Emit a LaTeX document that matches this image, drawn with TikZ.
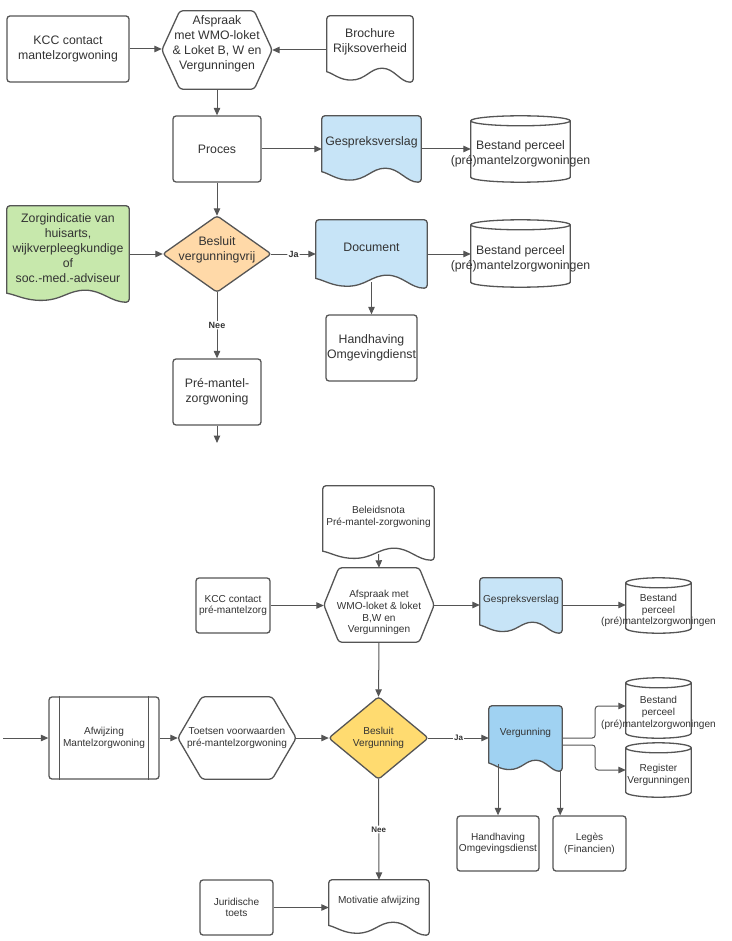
\documentclass[tikz,border=0pt]{standalone}
\usepackage{fontspec}
\setmainfont{Liberation Sans}
\usetikzlibrary{calc,arrows.meta,backgrounds}

\definecolor{lijn}{HTML}{555555}
\definecolor{tekst}{HTML}{333333}
\definecolor{lichtblauw}{HTML}{C7E4F7}
\definecolor{blauw}{HTML}{A0D2F2}
\definecolor{groen}{HTML}{C7E8AC}
\definecolor{oranje}{HTML}{FFD9A8}
\definecolor{geel}{HTML}{FFDB70}

\tikzset{
  vak/.style={draw=none, inner sep=0pt, align=center, text=tekst},
  box/.style={vak, draw=lijn, line width=1.3pt, rounded corners=3pt, fill=white},
  rand/.style={draw=lijn, line width=1.3pt, rounded corners=3pt},
  pijl/.style={draw=lijn, line width=1pt, rounded corners=3pt, -{Triangle[length=7.5pt,width=6.5pt]}},
  groot/.style={font=\fontsize{12.3}{15}\selectfont},
  klein/.style={font=\fontsize{10.1}{11.7}\selectfont},
  jn/.style={fill=white, inner sep=1pt, text=tekst, font=\fontsize{9}{10}\selectfont\bfseries},
  jnk/.style={jn, font=\fontsize{8}{9}\selectfont\bfseries},
}

% tekst verschuiven zonder de vorm te verplaatsen
\def\schuif[#1]#2{\raisebox{#1}[\height][\depth]{\begin{tabular}{@{}c@{}}#2\end{tabular}}}

\def\docvorm(#1)[#2][#3]{%
  \begin{scope}[on background layer]
  \draw[rand,fill=#2] let \p1=(#1.south west), \p2=(#1.north east), \n1={\x2-\x1} in
    (\x1,\y1-0.25*#3pt) -- (\x1,\y2) -- (\x2,\y2) -- (\x2,\y1-#3pt) [sharp corners]
    .. controls (\x2-0.15*\n1,\y1-#3pt) and (\x2-0.22*\n1,\y1) .. (\x2-0.36*\n1,\y1)
    .. controls (\x2-0.5*\n1,\y1) and (\x1+0.45*\n1,\y1-0.85*#3pt) .. (\x1+0.28*\n1,\y1-0.85*#3pt)
    .. controls (\x1+0.15*\n1,\y1-0.85*#3pt) and (\x1+0.08*\n1,\y1-0.4*#3pt) .. (\x1,\y1-0.25*#3pt) -- cycle;
  \end{scope}}
\def\zeshoek(#1)[#2]{%
  \begin{scope}[on background layer]
  \draw[rand,fill=white] let \p1=(#1.south west), \p2=(#1.north east), \p3=(#1.west) in
    (\x1,\y3) -- (\x1+#2pt,\y2) -- (\x2-#2pt,\y2) -- (\x2,\y3) -- (\x2-#2pt,\y1) -- (\x1+#2pt,\y1) -- cycle;
  \end{scope}}
\def\ruit(#1)[#2]{%
  \begin{scope}[on background layer]
  \draw[rand,fill=#2] (#1.west) -- (#1.north) -- (#1.east) -- (#1.south) -- cycle;
  \end{scope}}
\def\ton(#1){%
  \begin{scope}[on background layer]
  \draw[rand,sharp corners,fill=white] let \p1=(#1.south west), \p2=(#1.north east), \n1={(\x2-\x1)/2} in
    (\x1,\y2+5pt) -- (\x1,\y1+5pt) arc[start angle=180,end angle=360,x radius=\n1,y radius=5pt]
    -- (\x2,\y2+5pt) arc[start angle=0,end angle=180,x radius=\n1,y radius=5pt] -- cycle
    (\x1,\y2+5pt) arc[start angle=180,end angle=360,x radius=\n1,y radius=5pt];
  \end{scope}}

\begin{document}
\begin{tikzpicture}[x=1pt,y=-1pt]
\useasboundingbox (0,0) rectangle (731,941);

% mantelzorgwoning
\node[box,groot,minimum width=122pt,minimum height=66pt] (kcc1) at (68,49) {KCC contact\\mantelzorgwoning};
\node[vak,groot,minimum width=110pt,minimum height=78pt] (afspraak1) at (217,50) {\schuif[6pt]{Afspraak\\met WMO-loket\\\& Loket B, W en\\Vergunningen}};
\zeshoek(afspraak1)[18]
\node[vak,groot,minimum width=86pt,minimum height=52pt] (brochure) at (370,42) {Brochure\\Rijksoverheid};
\docvorm(brochure)[white][14]
\node[box,groot,minimum width=88pt,minimum height=66pt] (proces) at (217,149) {Proces};
\node[vak,groot,minimum width=99pt,minimum height=52pt] (gesp1) at (371.5,142) {Gespreksverslag};
\docvorm(gesp1)[lichtblauw][14]
\node[vak,groot,minimum width=99pt,minimum height=56pt] (bestand1) at (520.5,154) {Bestand perceel\\\makebox[0pt]{(pré)mantelzorgwoningen}};
\ton(bestand1)
\node[vak,groot,minimum width=122pt,minimum height=84pt] (zorg) at (68,248) {Zorgindicatie van\\huisarts,\\wijkverpleegkundige\\of\\soc.-med.-adviseur};
\docvorm(zorg)[groen][12]
\node[vak,groot,minimum width=108pt,minimum height=76pt] (besluit1) at (217,254) {\schuif[4pt]{Besluit\\vergunningvrij}};
\ruit(besluit1)[oranje]
\node[vak,groot,minimum width=111pt,minimum height=55pt] (document) at (371.5,247.5) {Document};
\docvorm(document)[lichtblauw][13]
\node[vak,groot,minimum width=99pt,minimum height=57pt] (bestand2) at (520.5,258.5) {Bestand perceel\\\makebox[0pt]{(pré)mantelzorgwoningen}};
\ton(bestand2)
\node[box,groot,minimum width=91pt,minimum height=66pt] (handh1) at (371.5,348) {Handhaving\\Omgevingdienst};
\node[box,groot,minimum width=88pt,minimum height=66pt] (pre) at (217,392) {Pré-mantel-\\zorgwoning};
\coordinate (verder) at (217,443);

\draw[pijl] (kcc1.east) -- (kcc1.east -| afspraak1.west);
\draw[pijl] (afspraak1.east -| brochure.west) -- (afspraak1.east);
\draw[pijl] (afspraak1.south) -- (proces.north);
\draw[pijl] (proces.east) -- (proces.east -| gesp1.west);
\draw[pijl] (proces.east -| gesp1.east) -- (proces.east -| bestand1.west);
\draw[pijl] (proces.south) -- (besluit1.north);
\draw[pijl] (besluit1.west -| zorg.east) -- (besluit1.west);
\draw[pijl] (besluit1.east) -- node[jn] {Ja} (besluit1.east -| document.west);
\draw[pijl] (besluit1.east -| document.east) -- (besluit1.east -| bestand2.west);
\draw[pijl] ($(document.south)+(0,7)$) -- (handh1.north);
\draw[pijl] (besluit1.south) -- node[jn] {Nee} (pre.north);
\draw[pijl] (pre.south) -- (verder);

% pre-mantelzorgwoning
\node[vak,klein,minimum width=111pt,minimum height=62pt] (nota) at (378.5,517) {Beleidsnota\\Pré-mantel-zorgwoning};
\docvorm(nota)[white][12]
\node[box,klein,minimum width=74pt,minimum height=55pt] (kcc2) at (233,605.5) {KCC contact\\pré-mantelzorg};
\node[vak,klein,minimum width=110pt,minimum height=74pt] (afspraak2) at (379,605) {\schuif[-8pt]{Afspraak met\\WMO-loket \& loket\\B,W en\\Vergunningen}};
\zeshoek(afspraak2)[15]
\node[vak,klein,minimum width=82pt,minimum height=44pt] (gesp2) at (521,600) {Gespreksverslag};
\docvorm(gesp2)[lichtblauw][11]
\node[vak,klein,minimum width=65pt,minimum height=45pt] (bestand3) at (658.5,610.5) {Bestand\\perceel\\\makebox[0pt]{(pré)mantelzorgwoningen}};
\ton(bestand3)
\coordinate (links) at (3,738);
\node[box,klein,minimum width=110pt,minimum height=82pt] (afw) at (104,738) {Afwijzing\\Mantelzorgwoning};
\draw[rand] ([xshift=11pt]afw.north west) -- ([xshift=11pt]afw.south west);
\draw[rand] ([xshift=-11pt]afw.north east) -- ([xshift=-11pt]afw.south east);
\node[vak,klein,minimum width=118pt,minimum height=82pt] (toets) at (237,738) {Toetsen voorwaarden\\pré-mantelzorgwoning};
\zeshoek(toets)[24]
\node[vak,klein,minimum width=99pt,minimum height=82pt] (besluit2) at (378.5,738) {Besluit\\Vergunning};
\ruit(besluit2)[geel]
\node[vak,klein,minimum width=73pt,minimum height=54pt] (verg) at (525.5,733) {Vergunning};
\docvorm(verg)[blauw][11]
\node[vak,klein,minimum width=65pt,minimum height=50pt] (bestand4) at (658.5,713) {Bestand\\perceel\\\makebox[0pt]{(pré)mantelzorgwoningen}};
\ton(bestand4)
\node[vak,klein,minimum width=65pt,minimum height=44pt] (register) at (658.5,775) {Register\\Vergunningen};
\ton(register)
\node[box,klein,minimum width=82pt,minimum height=55pt] (handh2) at (498,843.5) {Handhaving\\Omgevingsdienst};
\node[box,klein,minimum width=73pt,minimum height=55pt] (leges) at (589.5,843.5) {Legès\\(Financien)};
\node[box,klein,minimum width=73pt,minimum height=55pt] (jur) at (236.5,907.5) {Juridische\\toets};
\node[vak,klein,minimum width=100pt,minimum height=42pt] (motiv) at (379,901) {Motivatie afwijzing};
\docvorm(motiv)[white][13]
\coordinate (vl) at ($(verg.south east)+(-2,10)$);

\draw[pijl] ($(nota.south)+(0,6)$) -- (afspraak2.north);
\draw[pijl] (kcc2.east) -- (kcc2.east -| afspraak2.west);
\draw[pijl] (afspraak2.east) -- (afspraak2.east -| gesp2.west);
\draw[pijl] (afspraak2.east -| gesp2.east) -- (afspraak2.east -| bestand3.west);
\draw[pijl] (afspraak2.south) -- (besluit2.north);
\draw[pijl] (links) -- (afw.west);
\draw[pijl] (afw.east) -- (toets.west);
\draw[pijl] (toets.east) -- (besluit2.west);
\draw[pijl] (besluit2.east) -- node[jnk] {Ja} (besluit2.east -| verg.west);
\draw[pijl] (besluit2.east -| verg.east) -- ++(33,0) |- ($(bestand4.west)+(0,-7)$);
\draw[pijl] ($(verg.east)+(0,12)$) -- ++(33,0) |- ($(register.west)+(0,-5)$);
\draw[pijl] ($(handh2.north |- verg.south)+(0,4)$) -- (handh2.north);
\draw[pijl] (vl) -- (vl |- leges.north);
\draw[pijl] (besluit2.south) -- node[jnk] {Nee} (motiv.north);
\draw[pijl] (jur.east) -- (jur.east -| motiv.west);
\end{tikzpicture}
\end{document}
